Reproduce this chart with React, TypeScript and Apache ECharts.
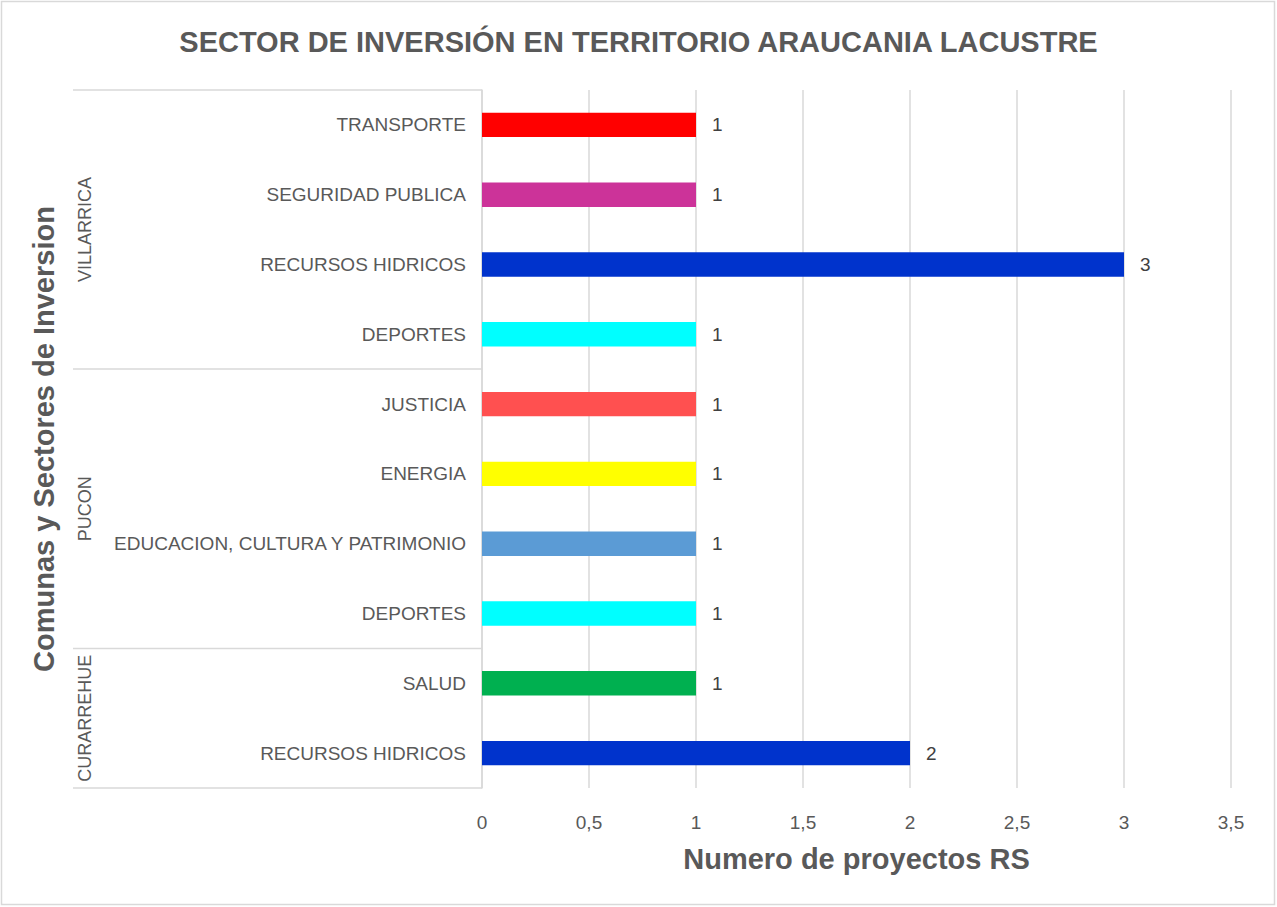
import React, { useEffect, useRef } from "react";
import * as echarts from "echarts";

// Data, listed bottom to top (ECharts category y axis starts at the bottom)
const comunas = [
  "CURARREHUE", "CURARREHUE",
  "PUCON", "PUCON", "PUCON", "PUCON",
  "VILLARRICA", "VILLARRICA", "VILLARRICA", "VILLARRICA",
];
const sectores = [
  "RECURSOS HIDRICOS", "SALUD",
  "DEPORTES", "EDUCACION, CULTURA Y PATRIMONIO", "ENERGIA", "JUSTICIA",
  "DEPORTES", "RECURSOS HIDRICOS", "SEGURIDAD PUBLICA", "TRANSPORTE",
];
const proyectos = [2, 1, 1, 1, 1, 1, 1, 3, 1, 1];
const sectorColors: Record<string, string> = {
  "RECURSOS HIDRICOS": "#0033CC",
  "SALUD": "#00B050",
  "DEPORTES": "#00FFFF",
  "EDUCACION, CULTURA Y PATRIMONIO": "#5B9BD5",
  "ENERGIA": "#FFFF00",
  "JUSTICIA": "#FF5050",
  "SEGURIDAD PUBLICA": "#CC3399",
  "TRANSPORTE": "#FF0000",
};
const xTicks = { min: 0, max: 3.5, interval: 0.5 };

const TITLE = "SECTOR DE INVERSIÓN EN TERRITORIO ARAUCANIA LACUSTRE";
const Y_NAME = "Comunas y Sectores de Inversion";
const X_NAME = "Numero de proyectos RS";

const GRAY = "#595959";
const LINE = "#D9D9D9";
const NARROW = "'Liberation Sans Narrow', 'Arial Narrow', 'Liberation Sans', sans-serif";
const SANS = "'Liberation Sans', Arial, sans-serif";

export default function App() {
  const ref = useRef<HTMLDivElement>(null);
  useEffect(() => {
    if (!ref.current) return;
    const chart = echarts.init(ref.current, null, { renderer: "svg" });
    const ids = sectores.map((s, i) => comunas[i] + "|" + s + "|" + i);
    const gridLeft = 482;
    const frameLeft = 73;
    const yNameSize = 29;
    chart.setOption({
      animation: false,
      backgroundColor: "#fff",
      title: {
        text: TITLE,
        left: "center",
        top: 22,
        textStyle: { fontFamily: NARROW, fontWeight: "bold", fontSize: 29, color: GRAY },
      },
      grid: { left: gridLeft, right: 46, top: 90, bottom: 119, containLabel: false },
      xAxis: {
        type: "value",
        min: xTicks.min,
        max: xTicks.max,
        interval: xTicks.interval,
        axisLine: { show: false },
        axisTick: { show: false },
        splitLine: { show: true, lineStyle: { color: LINE, width: 1.5 } },
        axisLabel: {
          margin: 25,
          fontSize: 19,
          fontFamily: NARROW,
          color: GRAY,
          formatter: (v: number) => String(v).replace(".", ","),
        },
        name: X_NAME,
        nameLocation: "middle",
        nameGap: 56,
        nameTextStyle: { fontFamily: NARROW, fontWeight: "bold", fontSize: 29, color: GRAY },
      },
      yAxis: {
        type: "category",
        data: ids,
        axisLine: { show: true, lineStyle: { color: LINE, width: 1.5 } },
        axisTick: { show: false },
        splitLine: { show: false },
        axisLabel: {
          margin: 16,
          fontSize: 19,
          fontFamily: SANS,
          color: GRAY,
          formatter: (v: string) => v.split("|")[1],
        },
        name: Y_NAME,
        nameLocation: "middle",
        nameGap: gridLeft - 44 - yNameSize / 2,
        nameRotate: 90,
        nameTextStyle: { fontFamily: SANS, fontWeight: "bold", fontSize: yNameSize, color: GRAY },
      },
      series: [
        {
          type: "bar",
          barWidth: "35%",
          data: proyectos.map((v, i) => ({ value: v, itemStyle: { color: sectorColors[sectores[i]] } })),
          label: {
            show: true,
            position: "right",
            distance: 16,
            fontSize: 19,
            fontFamily: NARROW,
            color: "#404040",
          },
        },
      ],
    });

    // Group frame (multi-level category) via the axis' own pixel positions
    const centers = ids.map((_, i) => chart.convertToPixel({ yAxisIndex: 0 }, i) as number);
    const band = Math.abs(centers[1] - centers[0]);
    const boundary = (i: number) => centers[i] + band / 2;
    const topOf = (i: number) => centers[i] - band / 2;
    const axisX = chart.convertToPixel({ xAxisIndex: 0 }, 0) as number;
    const graphics: any[] = [
      {
        type: "rect",
        shape: { x: 1.5, y: 1.5, width: 1273, height: 903 },
        style: { fill: "none", stroke: LINE, lineWidth: 1.5 },
        silent: true,
      },
    ];
    const groups: { name: string; start: number; end: number }[] = [];
    comunas.forEach((c, i) => {
      const g = groups[groups.length - 1];
      if (g && g.name === c) g.end = i;
      else groups.push({ name: c, start: i, end: i });
    });
    const ys = new Set<number>();
    groups.forEach((g) => {
      const yb = boundary(g.start);
      const yt = topOf(g.end);
      ys.add(Math.round(yb * 2) / 2);
      ys.add(Math.round(yt * 2) / 2);
      graphics.push({
        type: "text",
        x: frameLeft + 12,
        y: (yb + yt) / 2,
        rotation: Math.PI / 2,
        style: {
          text: g.name,
          fontSize: 18,
          fontFamily: SANS,
          fill: GRAY,
          align: "center",
          verticalAlign: "middle",
        },
        silent: true,
      });
    });
    ys.forEach((y) => {
      graphics.push({
        type: "line",
        shape: { x1: frameLeft, y1: y, x2: axisX, y2: y },
        style: { stroke: LINE, lineWidth: 1.5 },
        silent: true,
      });
    });
    chart.setOption({ graphic: graphics });

    return () => chart.dispose();
  }, []);
  return (
    <div
      ref={ref}
      style={{ position: "absolute", left: 0, top: 0, width: 1277, height: 907 }}
    />
  );
}
